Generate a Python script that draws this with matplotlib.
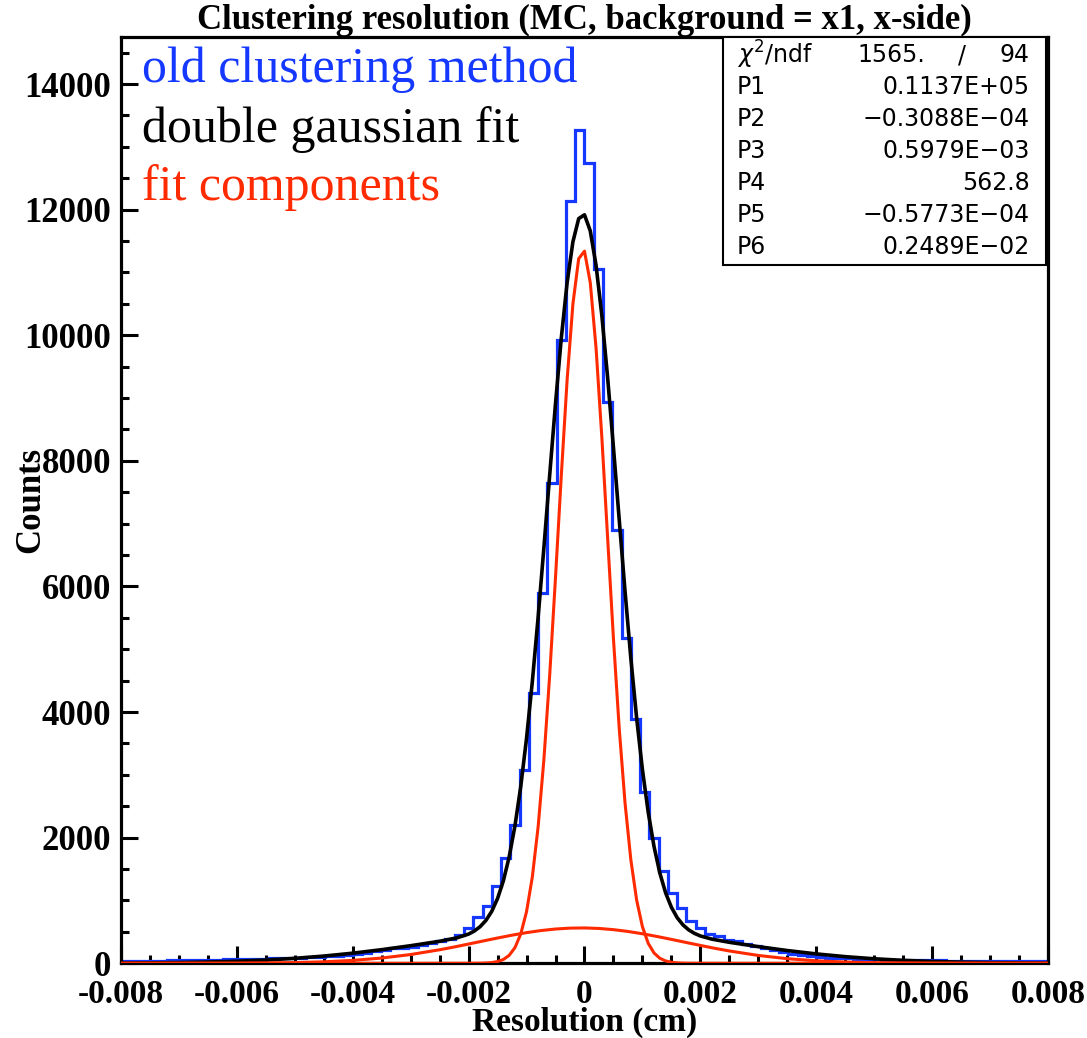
import numpy as np
import matplotlib.pyplot as plt
from matplotlib.patches import Rectangle

# histogram: 100 bins from -0.008 to 0.008 cm
edges = np.linspace(-0.008, 0.008, 101)
counts = [38, 40, 42, 40, 44, 46, 50, 48, 52, 55,
          56, 60, 62, 66, 70, 72, 76, 80, 86, 90,
          96, 104, 112, 122, 134, 150, 168, 190, 212, 238,
          240, 262, 290, 330, 350, 385, 450, 557, 742, 912,
          1235, 1671, 2204, 3077, 4297, 5898, 7640, 9932, 12133, 13263,
          12742, 11050, 8938, 6896, 5182, 3883, 2731, 1990, 1474, 1124,
          875, 678, 567, 460, 440, 375, 360, 300, 270, 240,
          210, 180, 150, 130, 115, 100, 90, 82, 76, 70,
          66, 62, 58, 56, 54, 52, 50, 48, 46, 44,
          42, 40, 40, 38, 36, 36, 34, 34, 32, 30]

# double gaussian fit (black)
x_total = [-0.008, -0.0075, -0.007, -0.0065, -0.006, -0.0055, -0.005, -0.0045,
           -0.004, -0.0035, -0.003, -0.0025, -0.0022, -0.002, -0.0019, -0.0018,
           -0.0017, -0.0016, -0.0015, -0.0014, -0.0013, -0.0012, -0.0011, -0.001,
           -0.0009, -0.0008, -0.0007, -0.0006, -0.0005, -0.0004, -0.0003, -0.0002,
           -0.0001, 0.0, 0.0001, 0.0002, 0.0003, 0.0004, 0.0005, 0.0006,
           0.0007, 0.0008, 0.0009, 0.001, 0.0011, 0.0012, 0.0013, 0.0014,
           0.0015, 0.0016, 0.0017, 0.0018, 0.0019, 0.002, 0.0022, 0.0025,
           0.003, 0.0035, 0.004, 0.0045, 0.005, 0.0055, 0.006, 0.0065,
           0.007, 0.0075, 0.008]
total_fit = [3.5, 6.4, 11.5, 19.8, 32.6, 51.5, 78.4, 114.5,
             160.5, 216.3, 279.8, 350, 405, 465, 514, 584,
             684, 828, 1032, 1313, 1693, 2188, 2815, 3582,
             4486, 5510, 6624, 7779, 8913, 9956, 10835, 11487,
             11857, 11918, 11662, 11112, 10312, 9321, 8213, 7059,
             5922, 4858, 3906, 3085, 2406, 1860, 1439, 1122,
             892, 726, 611, 531, 475, 435, 384, 334,
             265, 202.6, 149.0, 105.3, 71.4, 46.5, 29.1, 17.5,
             10.1, 5.6, 3.0]

# fit components (red)
x_narrow = [-0.008, -0.003, -0.002, -0.0018, -0.0017, -0.0016, -0.0015, -0.0014,
            -0.0013, -0.0012, -0.0011, -0.001, -0.0009, -0.0008, -0.0007, -0.0006,
            -0.0005, -0.0004, -0.0003, -0.0002, -0.0001, 0.0, 0.0001, 0.0002,
            0.0003, 0.0004, 0.0005, 0.0006, 0.0007, 0.0008, 0.0009, 0.001,
            0.0011, 0.0012, 0.0013, 0.0014, 0.0015, 0.0016, 0.0017, 0.0018,
            0.002, 0.003, 0.008]
narrow_fit = [0, 0, 0.3, 1.8, 4.7, 11.6, 27, 60,
              126, 249, 465, 822, 1375, 2173, 3250, 4595,
              6144, 7767, 9285, 10496, 11219, 11340, 10838, 9795,
              8370, 6764, 5169, 3735, 2552, 1649, 1007, 582,
              318, 164, 80, 37, 16, 6.7, 2.6, 1.0,
              0.2, 0, 0]
x_wide = [-0.008, -0.0075, -0.007, -0.0065, -0.006, -0.0055, -0.005, -0.0045,
          -0.004, -0.0035, -0.003, -0.0025, -0.00225, -0.002, -0.00175, -0.0015,
          -0.00125, -0.001, -0.00075, -0.0005, -0.00025, 0.0, 0.00025, 0.0005,
          0.00075, 0.001, 0.00125, 0.0015, 0.00175, 0.002, 0.00225, 0.0025,
          0.003, 0.0035, 0.004, 0.0045, 0.005, 0.0055, 0.006, 0.0065,
          0.007, 0.0075, 0.008]
wide_fit = [0.02, 0.07, 0.24, 0.69, 1.9, 4.7, 10.9, 23.3,
            45.8, 83.1, 139.2, 214.9, 258.8, 306.2, 354.5, 402.3,
            447.4, 487.7, 520.9, 545.3, 559.4, 562.5, 554.3, 535.2,
            506.6, 469.8, 427.2, 380.4, 332.0, 284.1, 238.0, 195.8,
            124.4, 72.9, 39.4, 19.7, 9.1, 3.8, 1.5, 0.5,
            0.2, 0.05, 0.02]

xticks = [-0.008, -0.006, -0.004, -0.002, 0, 0.002, 0.004, 0.006, 0.008]
xticklabels = ["-0.008", "-0.006", "-0.004", "-0.002", "0",
               "0.002", "0.004", "0.006", "0.008"]
yticks = [0, 2000, 4000, 6000, 8000, 10000, 12000, 14000]

stat_names = ["P1", "P2", "P3", "P4", "P5", "P6"]
stat_values = ["0.1137E+05", "\u22120.3088E\u221204", "0.5979E\u221203",
               "562.8", "\u22120.5773E\u221204", "0.2489E\u221202"]

blue = "#1438ff"
red = "#ff2a00"
serif = "Liberation Serif"

fig = plt.figure(figsize=(10.87, 10.38), dpi=100)
ax = fig.add_axes([0.1113, 0.0720, 0.8528, 0.8924])

ax.stairs(counts, edges, color=blue, lw=2.3, zorder=2)
ax.plot(x_total, total_fit, color="black", lw=2.6, zorder=3)
ax.plot(x_narrow, narrow_fit, color=red, lw=2.2, zorder=4)
ax.plot(x_wide, wide_fit, color=red, lw=2.2, zorder=4)

ax.set_xlim(-0.008, 0.008)
ax.set_ylim(0, 14750)

ax.set_xticks(xticks)
ax.set_xticklabels(xticklabels)
ax.set_yticks(yticks)
ax.set_xticks(np.arange(-0.008, 0.00801, 0.0005), minor=True)
ax.set_yticks(np.arange(0, 14751, 500), minor=True)
ax.tick_params(which="both", direction="in", top=False, right=False, width=2.2)
ax.tick_params(which="major", length=12)
ax.tick_params(which="minor", length=6)
ax.tick_params(axis="x", pad=11, labelsize=24)
ax.tick_params(axis="y", pad=7, labelsize=25)
for lab in ax.get_xticklabels() + ax.get_yticklabels():
    lab.set_fontfamily(serif)
    lab.set_fontweight("bold")
for s in ax.spines.values():
    s.set_linewidth(2.3)

ax.set_xlabel("Resolution (cm)", fontfamily=serif, fontweight="bold",
              fontsize=24, labelpad=-2)
ax.set_ylabel("Counts", fontfamily=serif, fontweight="bold", fontsize=25)
ax.yaxis.set_label_coords(-0.08, 0.50)
ax.set_title("Clustering resolution (MC, background = x1, x-side)",
             fontfamily=serif, fontweight="bold", fontsize=25, pad=3)

ax.text(0.0227, 0.9644, "old clustering method", color=blue,
        fontfamily=serif, fontsize=36, va="center", transform=ax.transAxes)
ax.text(0.0227, 0.8996, "double gaussian fit", color="black",
        fontfamily=serif, fontsize=36, va="center", transform=ax.transAxes)
ax.text(0.0227, 0.8370, "fit components", color=red,
        fontfamily=serif, fontsize=36, va="center", transform=ax.transAxes)

# fit statistics box
ax.add_patch(Rectangle((0.6494, 0.7535), 0.3484, 0.2465, transform=ax.transAxes,
                       facecolor="white", edgecolor="black", lw=1.5, zorder=5))
sfont = dict(fontfamily="DejaVu Sans", fontsize=17, va="center",
             transform=ax.transAxes, zorder=6)
row_y = [0.9805, 0.946, 0.9115, 0.8769, 0.8424, 0.8078, 0.7733]
ax.text(0.6645, row_y[0], r"$\chi^2$/ndf", **sfont)
ax.text(0.794, row_y[0], "1565.", **sfont)
ax.text(0.9072, row_y[0], "/", ha="center", **sfont)
ax.text(0.9806, row_y[0], "94", ha="right", **sfont)
for name, val, yy in zip(stat_names, stat_values, row_y[1:]):
    ax.text(0.6645, yy, name, **sfont)
    ax.text(0.9806, yy, val, ha="right", **sfont)

fig.savefig("out.png", dpi=100)
plt.close(fig)
